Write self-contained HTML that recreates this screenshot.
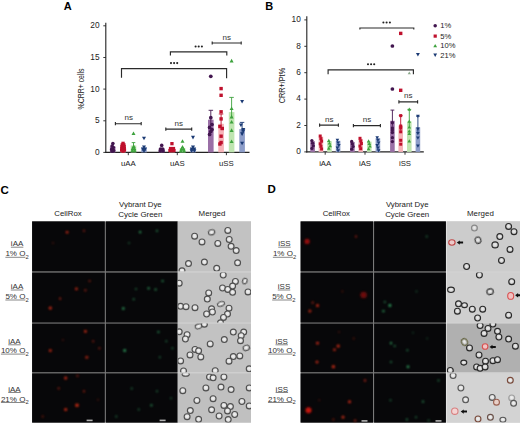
<!DOCTYPE html>
<html><head><meta charset="utf-8"><style>
html,body{margin:0;padding:0;background:#fff;}
body{width:520px;height:424px;overflow:hidden;position:relative;font-family:"Liberation Sans", sans-serif;}
svg{position:absolute;left:0;top:0;}
</style></head><body>
<svg width="520" height="424" viewBox="0 0 520 424" font-family='"Liberation Sans", sans-serif'>
<text x="63.8" y="9.8" font-size="11" text-anchor="start" font-weight="bold" fill="#000" >A</text>
<line x1="105.8" y1="22.8" x2="105.8" y2="152.9" stroke="#222" stroke-width="1.1"/>
<line x1="105.3" y1="152.4" x2="249.5" y2="152.4" stroke="#222" stroke-width="1.1"/>
<line x1="103.3" y1="152.4" x2="105.8" y2="152.4" stroke="#222" stroke-width="0.9"/>
<text x="99.6" y="155.0" font-size="8.3" text-anchor="end" font-weight="normal" fill="#222" >0</text>
<line x1="103.3" y1="120.8" x2="105.8" y2="120.8" stroke="#222" stroke-width="0.9"/>
<text x="99.6" y="123.3" font-size="8.3" text-anchor="end" font-weight="normal" fill="#222" >5</text>
<line x1="103.3" y1="89.1" x2="105.8" y2="89.1" stroke="#222" stroke-width="0.9"/>
<text x="99.6" y="91.7" font-size="8.3" text-anchor="end" font-weight="normal" fill="#222" >10</text>
<line x1="103.3" y1="57.5" x2="105.8" y2="57.5" stroke="#222" stroke-width="0.9"/>
<text x="99.6" y="60.1" font-size="8.3" text-anchor="end" font-weight="normal" fill="#222" >15</text>
<line x1="103.3" y1="25.8" x2="105.8" y2="25.8" stroke="#222" stroke-width="0.9"/>
<text x="99.6" y="28.4" font-size="8.3" text-anchor="end" font-weight="normal" fill="#222" >20</text>
<text transform="translate(84.2,89.0) rotate(-90)" font-size="8.2" text-anchor="middle" fill="#222" textLength="41" lengthAdjust="spacingAndGlyphs">%CRR+ cells</text>
<line x1="128.3" y1="152.4" x2="128.3" y2="155.20000000000002" stroke="#222" stroke-width="0.9"/>
<text x="128.3" y="165.7" font-size="7.8" text-anchor="middle" font-weight="normal" fill="#222" >uAA</text>
<line x1="177.3" y1="152.4" x2="177.3" y2="155.20000000000002" stroke="#222" stroke-width="0.9"/>
<text x="177.3" y="165.7" font-size="7.8" text-anchor="middle" font-weight="normal" fill="#222" >uAS</text>
<line x1="226.4" y1="152.4" x2="226.4" y2="155.20000000000002" stroke="#222" stroke-width="0.9"/>
<text x="226.4" y="165.7" font-size="7.8" text-anchor="middle" font-weight="normal" fill="#222" >uSS</text>
<rect x="208.0" y="119.7" width="5.6" height="32.7" fill="#9a6fa6"/>
<rect x="218.3" y="123.8" width="5.6" height="28.6" fill="#f6b3b8"/>
<rect x="228.8" y="112.1" width="5.6" height="40.3" fill="#bfe5b0"/>
<rect x="239.3" y="129.1" width="5.6" height="23.3" fill="#8d9dc9"/>
<line x1="210.8" y1="110.3" x2="210.8" y2="125.7" stroke="#42164f" stroke-width="0.9"/><line x1="208.6" y1="110.3" x2="213.1" y2="110.3" stroke="#42164f" stroke-width="0.9"/>
<line x1="221.1" y1="114.0" x2="221.1" y2="129.8" stroke="#bf112d" stroke-width="0.9"/><line x1="218.8" y1="114.0" x2="223.3" y2="114.0" stroke="#bf112d" stroke-width="0.9"/>
<line x1="231.6" y1="97.4" x2="231.6" y2="118.1" stroke="#3da23d" stroke-width="0.9"/><line x1="229.3" y1="97.4" x2="233.8" y2="97.4" stroke="#3da23d" stroke-width="0.9"/>
<line x1="242.1" y1="122.4" x2="242.1" y2="135.1" stroke="#1b3a74" stroke-width="0.9"/><line x1="239.8" y1="122.4" x2="244.3" y2="122.4" stroke="#1b3a74" stroke-width="0.9"/>
<circle cx="210.8" cy="76.3" r="1.87" fill="#42164f"/>
<circle cx="210.8" cy="117.7" r="1.87" fill="#42164f"/>
<circle cx="209.6" cy="127.4" r="1.87" fill="#42164f"/>
<circle cx="212.0" cy="129.5" r="1.87" fill="#42164f"/>
<circle cx="210.8" cy="131.5" r="1.87" fill="#42164f"/>
<circle cx="209.6" cy="134.4" r="1.87" fill="#42164f"/>
<circle cx="212.0" cy="124.5" r="1.87" fill="#42164f"/>
<rect x="219.4" y="86.9" width="3.4" height="3.4" fill="#bf112d"/>
<rect x="219.4" y="93.6" width="3.4" height="3.4" fill="#bf112d"/>
<rect x="219.4" y="110.1" width="3.4" height="3.4" fill="#bf112d"/>
<rect x="219.4" y="117.2" width="3.4" height="3.4" fill="#bf112d"/>
<rect x="218.2" y="124.8" width="3.4" height="3.4" fill="#bf112d"/>
<rect x="220.6" y="126.8" width="3.4" height="3.4" fill="#bf112d"/>
<rect x="219.4" y="134.5" width="3.4" height="3.4" fill="#bf112d"/>
<rect x="219.4" y="140.8" width="3.4" height="3.4" fill="#bf112d"/>
<rect x="218.2" y="142.3" width="3.4" height="3.4" fill="#bf112d"/>
<path d="M231.6 58.8L233.6 62.4L229.6 62.4Z" fill="#3da23d"/>
<path d="M231.6 106.5L233.6 110.1L229.6 110.1Z" fill="#3da23d"/>
<path d="M231.6 114.8L233.6 118.4L229.6 118.4Z" fill="#3da23d"/>
<path d="M231.6 128.3L233.6 131.9L229.6 131.9Z" fill="#3da23d"/>
<path d="M231.6 139.5L233.6 143.1L229.6 143.1Z" fill="#3da23d"/>
<path d="M231.6 120.0L233.6 123.6L229.6 123.6Z" fill="#3da23d"/>
<path d="M242.1 103.6L244.1 100.0L240.1 100.0Z" fill="#1b3a74"/>
<path d="M240.9 127.0L242.9 123.4L238.9 123.4Z" fill="#1b3a74"/>
<path d="M243.3 131.7L245.3 128.1L241.3 128.1Z" fill="#1b3a74"/>
<path d="M242.1 135.9L244.1 132.3L240.1 132.3Z" fill="#1b3a74"/>
<path d="M242.1 145.3L244.1 141.7L240.1 141.7Z" fill="#1b3a74"/>
<path d="M243.3 133.0L245.3 129.4L241.3 129.4Z" fill="#1b3a74"/>
<rect x="109.9" y="146.5" width="5.6" height="5.9" fill="#9a6fa6"/>
<rect x="120.2" y="145.5" width="5.6" height="6.9" fill="#f6b3b8"/>
<rect x="130.7" y="145.5" width="5.6" height="6.9" fill="#bfe5b0"/>
<rect x="141.2" y="147.5" width="5.6" height="4.9" fill="#8d9dc9"/>
<circle cx="112.9" cy="143.6" r="1.81" fill="#42164f"/>
<circle cx="112.1" cy="146.0" r="1.81" fill="#42164f"/>
<circle cx="113.3" cy="147.6" r="1.81" fill="#42164f"/>
<circle cx="111.7" cy="149.4" r="1.81" fill="#42164f"/>
<circle cx="113.6" cy="150.6" r="1.81" fill="#42164f"/>
<circle cx="112.2" cy="151.2" r="1.81" fill="#42164f"/>
<rect x="121.4" y="141.7" width="3.3" height="3.3" fill="#bf112d"/>
<rect x="120.6" y="143.2" width="3.3" height="3.3" fill="#bf112d"/>
<rect x="122.2" y="143.2" width="3.3" height="3.3" fill="#bf112d"/>
<rect x="120.4" y="144.9" width="3.3" height="3.3" fill="#bf112d"/>
<rect x="122.4" y="144.9" width="3.3" height="3.3" fill="#bf112d"/>
<rect x="120.2" y="146.8" width="3.3" height="3.3" fill="#bf112d"/>
<rect x="122.6" y="146.8" width="3.3" height="3.3" fill="#bf112d"/>
<rect x="120.0" y="148.5" width="3.3" height="3.3" fill="#bf112d"/>
<rect x="122.8" y="148.5" width="3.3" height="3.3" fill="#bf112d"/>
<rect x="121.4" y="149.5" width="3.3" height="3.3" fill="#bf112d"/>
<line x1="133.5" y1="142.6" x2="133.5" y2="147.0" stroke="#3da23d" stroke-width="0.9"/><line x1="131.7" y1="142.6" x2="135.3" y2="142.6" stroke="#3da23d" stroke-width="0.9"/>
<path d="M133.5 131.4L135.5 135.0L131.5 135.0Z" fill="#3da23d"/>
<path d="M133.7 144.3L135.7 147.9L131.7 147.9Z" fill="#3da23d"/>
<path d="M132.6 146.6L134.6 150.2L130.6 150.2Z" fill="#3da23d"/>
<path d="M134.4 146.6L136.4 150.2L132.4 150.2Z" fill="#3da23d"/>
<path d="M132.3 148.6L134.3 152.2L130.3 152.2Z" fill="#3da23d"/>
<path d="M134.7 148.6L136.7 152.2L132.7 152.2Z" fill="#3da23d"/>
<path d="M144.0 140.3L146.0 136.7L142.0 136.7Z" fill="#1b3a74"/>
<path d="M144.0 149.0L146.0 145.4L142.0 145.4Z" fill="#1b3a74"/>
<path d="M143.0 151.2L145.0 147.6L141.0 147.6Z" fill="#1b3a74"/>
<path d="M145.0 151.2L147.0 147.6L143.0 147.6Z" fill="#1b3a74"/>
<path d="M144.0 153.0L146.0 149.4L142.0 149.4Z" fill="#1b3a74"/>
<rect x="158.9" y="148.5" width="5.6" height="3.9" fill="#9a6fa6"/>
<rect x="169.2" y="147.8" width="5.6" height="4.6" fill="#f6b3b8"/>
<rect x="179.7" y="148.0" width="5.6" height="4.4" fill="#bfe5b0"/>
<rect x="190.2" y="148.0" width="5.6" height="4.4" fill="#8d9dc9"/>
<circle cx="161.7" cy="145.4" r="1.81" fill="#42164f"/>
<circle cx="160.5" cy="149.0" r="1.81" fill="#42164f"/>
<circle cx="162.7" cy="149.0" r="1.81" fill="#42164f"/>
<circle cx="160.2" cy="150.9" r="1.81" fill="#42164f"/>
<circle cx="163.1" cy="150.9" r="1.81" fill="#42164f"/>
<rect x="170.3" y="142.0" width="3.3" height="3.3" fill="#bf112d"/>
<rect x="168.9" y="146.9" width="3.3" height="3.3" fill="#bf112d"/>
<rect x="171.8" y="146.9" width="3.3" height="3.3" fill="#bf112d"/>
<rect x="168.3" y="148.9" width="3.3" height="3.3" fill="#bf112d"/>
<rect x="170.3" y="148.9" width="3.3" height="3.3" fill="#bf112d"/>
<rect x="172.3" y="148.9" width="3.3" height="3.3" fill="#bf112d"/>
<path d="M182.5 139.2L184.5 142.8L180.5 142.8Z" fill="#3da23d"/>
<path d="M182.5 145.0L184.5 148.6L180.5 148.6Z" fill="#3da23d"/>
<path d="M181.5 147.0L183.5 150.6L179.5 150.6Z" fill="#3da23d"/>
<path d="M183.5 147.0L185.5 150.6L181.5 150.6Z" fill="#3da23d"/>
<path d="M180.9 148.8L182.9 152.4L178.9 152.4Z" fill="#3da23d"/>
<path d="M184.1 148.8L186.1 152.4L182.1 152.4Z" fill="#3da23d"/>
<path d="M193.0 139.4L195.0 135.8L191.0 135.8Z" fill="#1b3a74"/>
<path d="M193.0 149.2L195.0 145.6L191.0 145.6Z" fill="#1b3a74"/>
<path d="M191.8 151.0L193.8 147.4L189.8 147.4Z" fill="#1b3a74"/>
<path d="M194.2 151.0L196.2 147.4L192.2 147.4Z" fill="#1b3a74"/>
<path d="M191.6 152.8L193.6 149.2L189.6 149.2Z" fill="#1b3a74"/>
<path d="M194.4 152.8L196.4 149.2L192.4 149.2Z" fill="#1b3a74"/>
<path d="M121.5 77.8V68.6H226.6V78.19999999999999" fill="none" stroke="#2a2a2a" stroke-width="1.15"/>
<circle cx="171.0" cy="63.1" r="1.05" fill="#222"/><circle cx="174.1" cy="63.1" r="1.05" fill="#222"/><circle cx="177.2" cy="63.1" r="1.05" fill="#222"/>
<path d="M170.4 55.5V51.9H226.8V55.5" fill="none" stroke="#2a2a2a" stroke-width="1.15"/>
<circle cx="195.6" cy="46.5" r="1.05" fill="#222"/><circle cx="198.7" cy="46.5" r="1.05" fill="#222"/><circle cx="201.9" cy="46.5" r="1.05" fill="#222"/>
<path d="M212.2 43H241.2M212.2 41.4V44.6M241.2 41.4V44.6" fill="none" stroke="#2a2a2a" stroke-width="1.15"/>
<text x="226.8" y="39.9" font-size="8" text-anchor="middle" font-weight="normal" fill="#333" >ns</text>
<path d="M115.4 123.7H141.2M115.4 122.10000000000001V125.3M141.2 122.10000000000001V125.3" fill="none" stroke="#2a2a2a" stroke-width="1.15"/>
<text x="128.75" y="119.8" font-size="8" text-anchor="middle" font-weight="normal" fill="#333" >ns</text>
<path d="M165.8 129.1H191.7M165.8 127.5V130.7M191.7 127.5V130.7" fill="none" stroke="#2a2a2a" stroke-width="1.15"/>
<text x="178.75" y="125.5" font-size="8" text-anchor="middle" font-weight="normal" fill="#333" >ns</text>
<text x="265.2" y="10.2" font-size="11" text-anchor="start" font-weight="bold" fill="#000" >B</text>
<line x1="306.8" y1="16.2" x2="306.8" y2="152.4" stroke="#222" stroke-width="1.1"/>
<line x1="306.3" y1="151.9" x2="423.8" y2="151.9" stroke="#222" stroke-width="1.1"/>
<line x1="304.3" y1="151.9" x2="306.8" y2="151.9" stroke="#222" stroke-width="0.9"/>
<text x="300.8" y="154.2" font-size="8.3" text-anchor="end" font-weight="normal" fill="#222" >0</text>
<line x1="304.3" y1="125.5" x2="306.8" y2="125.5" stroke="#222" stroke-width="0.9"/>
<text x="300.8" y="127.8" font-size="8.3" text-anchor="end" font-weight="normal" fill="#222" >2</text>
<line x1="304.3" y1="99.1" x2="306.8" y2="99.1" stroke="#222" stroke-width="0.9"/>
<text x="300.8" y="101.4" font-size="8.3" text-anchor="end" font-weight="normal" fill="#222" >4</text>
<line x1="304.3" y1="72.7" x2="306.8" y2="72.7" stroke="#222" stroke-width="0.9"/>
<text x="300.8" y="75.0" font-size="8.3" text-anchor="end" font-weight="normal" fill="#222" >6</text>
<line x1="304.3" y1="46.3" x2="306.8" y2="46.3" stroke="#222" stroke-width="0.9"/>
<text x="300.8" y="48.6" font-size="8.3" text-anchor="end" font-weight="normal" fill="#222" >8</text>
<line x1="304.3" y1="19.9" x2="306.8" y2="19.9" stroke="#222" stroke-width="0.9"/>
<text x="300.8" y="22.2" font-size="8.3" text-anchor="end" font-weight="normal" fill="#222" >10</text>
<text transform="translate(285.1,85.6) rotate(-90)" font-size="8.4" text-anchor="middle" fill="#222" textLength="35.5" lengthAdjust="spacingAndGlyphs">CRR+/Pt%</text>
<line x1="325.2" y1="151.9" x2="325.2" y2="154.70000000000002" stroke="#222" stroke-width="0.9"/>
<text x="325.2" y="165.5" font-size="7.8" text-anchor="middle" font-weight="normal" fill="#222" >iAA</text>
<line x1="365.0" y1="151.9" x2="365.0" y2="154.70000000000002" stroke="#222" stroke-width="0.9"/>
<text x="365.0" y="165.5" font-size="7.8" text-anchor="middle" font-weight="normal" fill="#222" >iAS</text>
<line x1="405.0" y1="151.9" x2="405.0" y2="154.70000000000002" stroke="#222" stroke-width="0.9"/>
<text x="405.0" y="165.5" font-size="7.8" text-anchor="middle" font-weight="normal" fill="#222" >iSS</text>
<rect x="390.1" y="120.8" width="4.6" height="31.1" fill="#9a6fa6"/>
<rect x="398.4" y="125.5" width="4.6" height="26.4" fill="#f6b3b8"/>
<rect x="407.0" y="121.4" width="4.6" height="30.5" fill="#bfe5b0"/>
<rect x="415.6" y="127.3" width="4.6" height="24.6" fill="#8d9dc9"/>
<line x1="392.4" y1="110.1" x2="392.4" y2="125.8" stroke="#42164f" stroke-width="0.9"/><line x1="390.5" y1="110.1" x2="394.3" y2="110.1" stroke="#42164f" stroke-width="0.9"/>
<line x1="400.7" y1="115.6" x2="400.7" y2="130.5" stroke="#bf112d" stroke-width="0.9"/><line x1="398.8" y1="115.6" x2="402.6" y2="115.6" stroke="#bf112d" stroke-width="0.9"/>
<line x1="409.3" y1="109.4" x2="409.3" y2="126.4" stroke="#3da23d" stroke-width="0.9"/><line x1="407.4" y1="109.4" x2="411.2" y2="109.4" stroke="#3da23d" stroke-width="0.9"/>
<line x1="417.9" y1="116.2" x2="417.9" y2="132.3" stroke="#1b3a74" stroke-width="0.9"/><line x1="416.0" y1="116.2" x2="419.8" y2="116.2" stroke="#1b3a74" stroke-width="0.9"/>
<circle cx="392.4" cy="46.0" r="1.87" fill="#42164f"/>
<circle cx="392.4" cy="89.0" r="1.87" fill="#42164f"/>
<circle cx="392.4" cy="122.7" r="1.65" fill="#42164f"/>
<circle cx="392.4" cy="127.9" r="1.65" fill="#42164f"/>
<circle cx="392.4" cy="132.5" r="1.65" fill="#42164f"/>
<circle cx="392.4" cy="137.7" r="1.65" fill="#42164f"/>
<circle cx="392.4" cy="141.6" r="1.65" fill="#42164f"/>
<circle cx="392.4" cy="130.0" r="1.65" fill="#42164f"/>
<rect x="399.0" y="31.7" width="3.4" height="3.4" fill="#bf112d"/>
<rect x="399.0" y="88.6" width="3.4" height="3.4" fill="#bf112d"/>
<rect x="399.2" y="114.1" width="3.0" height="3.0" fill="#bf112d"/>
<rect x="399.2" y="124.5" width="3.0" height="3.0" fill="#bf112d"/>
<rect x="399.2" y="130.3" width="3.0" height="3.0" fill="#bf112d"/>
<rect x="399.2" y="138.8" width="3.0" height="3.0" fill="#bf112d"/>
<rect x="399.2" y="142.7" width="3.0" height="3.0" fill="#bf112d"/>
<rect x="399.2" y="126.5" width="3.0" height="3.0" fill="#bf112d"/>
<path d="M409.3 71.4L410.9 74.2L407.7 74.2Z" fill="#8aa88a"/>
<path d="M409.3 107.6L411.1 110.8L407.5 110.8Z" fill="#3da23d"/>
<path d="M409.3 119.6L411.1 122.8L407.5 122.8Z" fill="#3da23d"/>
<path d="M409.3 125.2L411.1 128.4L407.5 128.4Z" fill="#3da23d"/>
<path d="M409.3 129.2L411.1 132.4L407.5 132.4Z" fill="#3da23d"/>
<path d="M409.3 131.7L411.1 134.9L407.5 134.9Z" fill="#3da23d"/>
<path d="M409.3 139.2L411.1 142.4L407.5 142.4Z" fill="#3da23d"/>
<path d="M417.9 56.5L419.9 52.9L415.9 52.9Z" fill="#1b3a74"/>
<path d="M417.9 118.0L419.7 114.8L416.1 114.8Z" fill="#1b3a74"/>
<path d="M417.9 130.8L419.7 127.6L416.1 127.6Z" fill="#1b3a74"/>
<path d="M417.9 135.3L419.7 132.1L416.1 132.1Z" fill="#1b3a74"/>
<path d="M417.9 139.8L419.7 136.6L416.1 136.6Z" fill="#1b3a74"/>
<path d="M417.9 147.8L419.7 144.6L416.1 144.6Z" fill="#1b3a74"/>
<rect x="310.3" y="141.2" width="4.6" height="10.7" fill="#9a6fa6"/>
<circle cx="311.9" cy="140.6" r="1.65" fill="#42164f"/>
<circle cx="312.6" cy="143.2" r="1.65" fill="#42164f"/>
<circle cx="313.3" cy="145.8" r="1.65" fill="#42164f"/>
<circle cx="311.9" cy="148.4" r="1.65" fill="#42164f"/>
<rect x="318.6" y="136.6" width="4.6" height="15.3" fill="#f6b3b8"/>
<rect x="318.7" y="134.5" width="3.0" height="3.0" fill="#bf112d"/>
<rect x="319.4" y="137.1" width="3.0" height="3.0" fill="#bf112d"/>
<rect x="320.1" y="139.7" width="3.0" height="3.0" fill="#bf112d"/>
<rect x="318.7" y="142.3" width="3.0" height="3.0" fill="#bf112d"/>
<rect x="319.4" y="144.9" width="3.0" height="3.0" fill="#bf112d"/>
<rect x="320.1" y="147.5" width="3.0" height="3.0" fill="#bf112d"/>
<rect x="327.2" y="141.2" width="4.6" height="10.7" fill="#bfe5b0"/>
<path d="M328.8 138.8L330.6 142.0L327.0 142.0Z" fill="#3da23d"/>
<path d="M329.5 141.4L331.3 144.6L327.7 144.6Z" fill="#3da23d"/>
<path d="M330.2 144.0L332.0 147.2L328.4 147.2Z" fill="#3da23d"/>
<path d="M328.8 146.6L330.6 149.8L327.0 149.8Z" fill="#3da23d"/>
<rect x="335.8" y="140.8" width="4.6" height="11.1" fill="#8d9dc9"/>
<path d="M337.4 142.0L339.2 138.8L335.6 138.8Z" fill="#1b3a74"/>
<path d="M338.1 144.6L339.9 141.4L336.3 141.4Z" fill="#1b3a74"/>
<path d="M338.8 147.2L340.6 144.0L337.0 144.0Z" fill="#1b3a74"/>
<path d="M337.4 149.8L339.2 146.6L335.6 146.6Z" fill="#1b3a74"/>
<path d="M338.1 152.4L339.9 149.2L336.3 149.2Z" fill="#1b3a74"/>
<rect x="350.1" y="142.0" width="4.6" height="9.9" fill="#9a6fa6"/>
<circle cx="351.7" cy="141.4" r="1.65" fill="#42164f"/>
<circle cx="352.4" cy="144.0" r="1.65" fill="#42164f"/>
<circle cx="353.1" cy="146.6" r="1.65" fill="#42164f"/>
<circle cx="351.7" cy="149.2" r="1.65" fill="#42164f"/>
<rect x="358.4" y="138.9" width="4.6" height="13.0" fill="#f6b3b8"/>
<rect x="358.5" y="136.8" width="3.0" height="3.0" fill="#bf112d"/>
<rect x="359.2" y="139.4" width="3.0" height="3.0" fill="#bf112d"/>
<rect x="359.9" y="142.0" width="3.0" height="3.0" fill="#bf112d"/>
<rect x="358.5" y="144.6" width="3.0" height="3.0" fill="#bf112d"/>
<rect x="359.2" y="147.2" width="3.0" height="3.0" fill="#bf112d"/>
<rect x="367.0" y="141.6" width="4.6" height="10.3" fill="#bfe5b0"/>
<path d="M368.6 139.2L370.4 142.4L366.8 142.4Z" fill="#3da23d"/>
<path d="M369.3 141.8L371.1 145.0L367.5 145.0Z" fill="#3da23d"/>
<path d="M370.0 144.4L371.8 147.6L368.2 147.6Z" fill="#3da23d"/>
<path d="M368.6 147.0L370.4 150.2L366.8 150.2Z" fill="#3da23d"/>
<rect x="375.6" y="138.2" width="4.6" height="13.7" fill="#8d9dc9"/>
<path d="M377.2 139.4L379.0 136.2L375.4 136.2Z" fill="#1b3a74"/>
<path d="M377.9 142.0L379.7 138.8L376.1 138.8Z" fill="#1b3a74"/>
<path d="M378.6 144.6L380.4 141.4L376.8 141.4Z" fill="#1b3a74"/>
<path d="M377.2 147.2L379.0 144.0L375.4 144.0Z" fill="#1b3a74"/>
<path d="M377.9 149.8L379.7 146.6L376.1 146.6Z" fill="#1b3a74"/>
<path d="M378.6 152.4L380.4 149.2L376.8 149.2Z" fill="#1b3a74"/>
<path d="M359.9 29.4V28.0H413.8V29.4" fill="none" stroke="#2a2a2a" stroke-width="1.15"/>
<circle cx="383.4" cy="22.5" r="1.05" fill="#222"/><circle cx="386.6" cy="22.5" r="1.05" fill="#222"/><circle cx="389.9" cy="22.5" r="1.05" fill="#222"/>
<path d="M328.1 74.2V69.8H413.4V74.2" fill="none" stroke="#2a2a2a" stroke-width="1.15"/>
<circle cx="368.0" cy="64.2" r="1.05" fill="#222"/><circle cx="371.1" cy="64.2" r="1.05" fill="#222"/><circle cx="374.2" cy="64.2" r="1.05" fill="#222"/>
<path d="M398.9 101.8H417.6M398.9 100.2V103.39999999999999M417.6 100.2V103.39999999999999" fill="none" stroke="#2a2a2a" stroke-width="1.15"/>
<text x="408.2" y="98.1" font-size="8" text-anchor="middle" font-weight="normal" fill="#333" >ns</text>
<path d="M319.6 125.1H338.4M319.6 123.5V126.69999999999999M338.4 123.5V126.69999999999999" fill="none" stroke="#2a2a2a" stroke-width="1.15"/>
<text x="329.2" y="121.8" font-size="8" text-anchor="middle" font-weight="normal" fill="#333" >ns</text>
<path d="M353.4 125.6H380.4M353.4 124.0V127.19999999999999M380.4 124.0V127.19999999999999" fill="none" stroke="#2a2a2a" stroke-width="1.15"/>
<text x="367.0" y="121.8" font-size="8" text-anchor="middle" font-weight="normal" fill="#333" >ns</text>
<circle cx="435.2" cy="25.8" r="1.76" fill="#42164f"/>
<text x="440.3" y="28.4" font-size="7.6" text-anchor="start" font-weight="normal" fill="#222" >1%</text>
<rect x="433.6" y="34.5" width="3.2" height="3.2" fill="#bf112d"/>
<text x="440.3" y="38.7" font-size="7.6" text-anchor="start" font-weight="normal" fill="#222" >5%</text>
<path d="M435.2 43.9L437.1 47.3L433.3 47.3Z" fill="#3da23d"/>
<text x="440.3" y="48.4" font-size="7.6" text-anchor="start" font-weight="normal" fill="#222" >10%</text>
<path d="M435.2 57.0L437.1 53.6L433.3 53.6Z" fill="#1b3a74"/>
<text x="440.3" y="57.7" font-size="7.6" text-anchor="start" font-weight="normal" fill="#222" >21%</text>
<text x="0.5" y="193.5" font-size="11.5" text-anchor="start" font-weight="bold" fill="#000" >C</text>
<text x="267.6" y="193.4" font-size="11.5" text-anchor="start" font-weight="bold" fill="#000" >D</text>
<text x="68.0" y="215.9" font-size="7.8" text-anchor="middle" font-weight="normal" fill="#222" >CellRox</text>
<text x="140.4" y="206.9" font-size="7.8" text-anchor="middle" font-weight="normal" fill="#222" >Vybrant Dye</text>
<text x="140.4" y="216.6" font-size="7.95" text-anchor="middle" font-weight="normal" fill="#222" >Cycle Green</text>
<text x="212.0" y="215.9" font-size="7.9" text-anchor="middle" font-weight="normal" fill="#222" >Merged</text>
<text x="336.3" y="215.9" font-size="7.8" text-anchor="middle" font-weight="normal" fill="#222" >CellRox</text>
<text x="407.2" y="206.9" font-size="7.8" text-anchor="middle" font-weight="normal" fill="#222" >Vybrant Dye</text>
<text x="407.2" y="216.6" font-size="7.95" text-anchor="middle" font-weight="normal" fill="#222" >Cycle Green</text>
<text x="480.4" y="215.9" font-size="7.9" text-anchor="middle" font-weight="normal" fill="#222" >Merged</text>
<defs><filter id="b1" x="-2" y="-2" width="5" height="5"><feGaussianBlur stdDeviation="0.9"/></filter><filter id="b2" x="-1" y="-1" width="3" height="3"><feGaussianBlur stdDeviation="0.45"/></filter><radialGradient id="cg" cx="0.5" cy="0.45" r="0.55"><stop offset="0" stop-color="#f4f4f4"/><stop offset="0.5" stop-color="#e2e2e2"/><stop offset="1" stop-color="#b0b0b0"/></radialGradient><radialGradient id="cg2" cx="0.5" cy="0.45" r="0.55"><stop offset="0" stop-color="#f0f0f0"/><stop offset="0.5" stop-color="#d8d8d8"/><stop offset="1" stop-color="#a8a8a8"/></radialGradient><filter id="b3" x="-2" y="-2" width="5" height="5"><feGaussianBlur stdDeviation="0.5"/></filter></defs>
<rect x="32.1" y="221.4" width="145.6" height="201.2" fill="#7a7a7a"/>
<rect x="177.7" y="221.4" width="73.3" height="201.2" fill="#d2d2d2"/>
<rect x="32.1" y="221.4" width="72.7" height="49.9" fill="#070709"/>
<rect x="105.9" y="221.4" width="71.8" height="49.9" fill="#070709"/>
<rect x="177.7" y="221.4" width="73.3" height="49.9" fill="#c2c2c2"/>
<rect x="32.1" y="272.6" width="72.7" height="49.9" fill="#070709"/>
<rect x="105.9" y="272.6" width="71.8" height="49.9" fill="#070709"/>
<rect x="177.7" y="272.6" width="73.3" height="49.9" fill="#c4c4c4"/>
<rect x="32.1" y="323.6" width="72.7" height="48.6" fill="#070709"/>
<rect x="105.9" y="323.6" width="71.8" height="48.6" fill="#070709"/>
<rect x="177.7" y="323.6" width="73.3" height="48.6" fill="#c2c2c2"/>
<rect x="32.1" y="373.4" width="72.7" height="49.2" fill="#070709"/>
<rect x="105.9" y="373.4" width="71.8" height="49.2" fill="#070709"/>
<rect x="177.7" y="373.4" width="73.3" height="49.2" fill="#c0c0c0"/>
<rect x="300.6" y="221.4" width="145.3" height="201.2" fill="#7a7a7a"/>
<rect x="446.6" y="221.4" width="73.9" height="201.2" fill="#d2d2d2"/>
<rect x="300.6" y="221.4" width="72.4" height="49.9" fill="#070709"/>
<rect x="374.1" y="221.4" width="71.8" height="49.9" fill="#070709"/>
<rect x="446.6" y="221.4" width="73.9" height="49.9" fill="#cccccc"/>
<rect x="300.6" y="272.6" width="72.4" height="49.9" fill="#070709"/>
<rect x="374.1" y="272.6" width="71.8" height="49.9" fill="#070709"/>
<rect x="446.6" y="272.6" width="73.9" height="49.9" fill="#cfcfcf"/>
<rect x="300.6" y="323.6" width="72.4" height="48.6" fill="#070709"/>
<rect x="374.1" y="323.6" width="71.8" height="48.6" fill="#070709"/>
<rect x="446.6" y="323.6" width="73.9" height="48.6" fill="#b0b0b0"/>
<rect x="300.6" y="373.4" width="72.4" height="49.2" fill="#070709"/>
<rect x="374.1" y="373.4" width="71.8" height="49.2" fill="#070709"/>
<rect x="446.6" y="373.4" width="73.9" height="49.2" fill="#d3d3d3"/>
<circle cx="67.1" cy="232.2" r="1.3" fill="#e0301a" opacity="0.9" filter="url(#b1)"/>
<circle cx="84.0" cy="230.8" r="1.1" fill="#e0301a" opacity="0.6" filter="url(#b1)"/>
<circle cx="53.0" cy="243.0" r="1.0" fill="#e0301a" opacity="0.3" filter="url(#b1)"/>
<circle cx="89.6" cy="281.0" r="1.1" fill="#e0301a" opacity="0.6" filter="url(#b1)"/>
<circle cx="76.4" cy="288.9" r="1.3" fill="#e0301a" opacity="0.9" filter="url(#b1)"/>
<circle cx="85.4" cy="290.3" r="1.1" fill="#e0301a" opacity="0.7" filter="url(#b1)"/>
<circle cx="60.1" cy="298.7" r="1.1" fill="#e0301a" opacity="0.7" filter="url(#b1)"/>
<circle cx="50.3" cy="308.0" r="1.6" fill="#e0301a" opacity="0.9" filter="url(#b1)"/>
<circle cx="85.4" cy="331.4" r="1.4" fill="#e0301a" opacity="0.9" filter="url(#b1)"/>
<circle cx="93.2" cy="341.3" r="1.1" fill="#e0301a" opacity="0.6" filter="url(#b1)"/>
<circle cx="99.4" cy="348.3" r="1.1" fill="#e0301a" opacity="0.6" filter="url(#b1)"/>
<circle cx="50.3" cy="350.5" r="1.5" fill="#e0301a" opacity="0.8" filter="url(#b1)"/>
<circle cx="86.8" cy="357.3" r="1.5" fill="#e0301a" opacity="0.7" filter="url(#b1)"/>
<circle cx="62.9" cy="339.9" r="1.0" fill="#e0301a" opacity="0.3" filter="url(#b1)"/>
<circle cx="65.7" cy="378.0" r="1.5" fill="#e0301a" opacity="0.9" filter="url(#b1)"/>
<circle cx="77.5" cy="375.8" r="1.1" fill="#e0301a" opacity="0.6" filter="url(#b1)"/>
<circle cx="58.7" cy="388.4" r="1.1" fill="#e0301a" opacity="0.6" filter="url(#b1)"/>
<circle cx="84.0" cy="391.3" r="1.1" fill="#e0301a" opacity="0.7" filter="url(#b1)"/>
<circle cx="77.0" cy="405.3" r="1.8" fill="#e0301a" opacity="0.9" filter="url(#b1)"/>
<circle cx="65.7" cy="409.5" r="1.5" fill="#e0301a" opacity="0.9" filter="url(#b1)"/>
<circle cx="42.7" cy="416.5" r="1.1" fill="#e0301a" opacity="0.5" filter="url(#b1)"/>
<circle cx="98.0" cy="399.7" r="1.0" fill="#e0301a" opacity="0.3" filter="url(#b1)"/>
<circle cx="140.1" cy="232.2" r="1.1" fill="#3fcf7a" opacity="0.8" filter="url(#b1)"/>
<circle cx="157.0" cy="230.8" r="1.1" fill="#3fcf7a" opacity="0.6" filter="url(#b1)"/>
<circle cx="129.0" cy="243.0" r="1.0" fill="#3fcf7a" opacity="0.4" filter="url(#b1)"/>
<circle cx="162.6" cy="281.0" r="1.1" fill="#3fcf7a" opacity="0.7" filter="url(#b1)"/>
<circle cx="148.6" cy="288.3" r="1.1" fill="#3fcf7a" opacity="0.8" filter="url(#b1)"/>
<circle cx="155.6" cy="289.4" r="1.0" fill="#3fcf7a" opacity="0.8" filter="url(#b1)"/>
<circle cx="136.0" cy="288.9" r="1.0" fill="#3fcf7a" opacity="0.5" filter="url(#b1)"/>
<circle cx="133.7" cy="299.2" r="1.0" fill="#3fcf7a" opacity="0.6" filter="url(#b1)"/>
<circle cx="123.3" cy="308.5" r="1.2" fill="#3fcf7a" opacity="0.8" filter="url(#b1)"/>
<circle cx="158.4" cy="332.0" r="1.1" fill="#3fcf7a" opacity="0.7" filter="url(#b1)"/>
<circle cx="166.3" cy="341.3" r="1.0" fill="#3fcf7a" opacity="0.5" filter="url(#b1)"/>
<circle cx="172.4" cy="348.3" r="1.0" fill="#3fcf7a" opacity="0.5" filter="url(#b1)"/>
<circle cx="124.7" cy="350.5" r="1.3" fill="#3fcf7a" opacity="0.9" filter="url(#b1)"/>
<circle cx="159.8" cy="357.3" r="1.0" fill="#3fcf7a" opacity="0.5" filter="url(#b1)"/>
<circle cx="131.7" cy="388.4" r="1.0" fill="#3fcf7a" opacity="0.5" filter="url(#b1)"/>
<circle cx="157.0" cy="391.3" r="1.0" fill="#3fcf7a" opacity="0.5" filter="url(#b1)"/>
<circle cx="151.4" cy="405.3" r="1.1" fill="#3fcf7a" opacity="0.7" filter="url(#b1)"/>
<circle cx="138.7" cy="409.5" r="1.0" fill="#3fcf7a" opacity="0.5" filter="url(#b1)"/>
<circle cx="116.3" cy="416.5" r="1.0" fill="#3fcf7a" opacity="0.5" filter="url(#b1)"/>
<circle cx="171.0" cy="398.3" r="1.0" fill="#3fcf7a" opacity="0.4" filter="url(#b1)"/>
<circle cx="307.1" cy="241.4" r="2.6" fill="#b01010" opacity="0.85" filter="url(#b1)"/>
<circle cx="356.0" cy="236.5" r="1.1" fill="#e0301a" opacity="0.7" filter="url(#b1)"/>
<circle cx="363.6" cy="295.0" r="3.2" fill="#9a0e10" opacity="0.7" filter="url(#b1)"/>
<circle cx="312.7" cy="302.7" r="1.1" fill="#e0301a" opacity="0.7" filter="url(#b1)"/>
<circle cx="317.5" cy="305.5" r="1.5" fill="#e0301a" opacity="0.9" filter="url(#b1)"/>
<circle cx="309.9" cy="311.1" r="1.5" fill="#e0301a" opacity="0.8" filter="url(#b1)"/>
<circle cx="342.4" cy="291.4" r="0.9" fill="#e0301a" opacity="0.4" filter="url(#b1)"/>
<circle cx="317.5" cy="343.2" r="1.4" fill="#e0301a" opacity="0.9" filter="url(#b1)"/>
<circle cx="338.2" cy="346.0" r="1.6" fill="#e0301a" opacity="0.9" filter="url(#b1)"/>
<circle cx="334.5" cy="349.7" r="1.3" fill="#e0301a" opacity="0.9" filter="url(#b1)"/>
<circle cx="353.7" cy="338.4" r="1.0" fill="#e0301a" opacity="0.4" filter="url(#b1)"/>
<circle cx="317.0" cy="362.1" r="1.4" fill="#e0301a" opacity="0.9" filter="url(#b1)"/>
<circle cx="333.4" cy="366.7" r="1.6" fill="#e0301a" opacity="0.9" filter="url(#b1)"/>
<circle cx="339.0" cy="331.9" r="1.0" fill="#e0301a" opacity="0.3" filter="url(#b1)"/>
<circle cx="308.5" cy="410.2" r="3.0" fill="#d01810" opacity="0.95" filter="url(#b1)"/>
<circle cx="349.5" cy="401.7" r="1.5" fill="#e0301a" opacity="0.9" filter="url(#b1)"/>
<circle cx="365.0" cy="380.5" r="1.2" fill="#e0301a" opacity="0.7" filter="url(#b1)"/>
<circle cx="343.0" cy="417.2" r="1.4" fill="#e0301a" opacity="0.9" filter="url(#b1)"/>
<circle cx="333.4" cy="419.5" r="1.0" fill="#e0301a" opacity="0.6" filter="url(#b1)"/>
<circle cx="355.1" cy="420.6" r="1.2" fill="#e0301a" opacity="0.7" filter="url(#b1)"/>
<circle cx="319.2" cy="400.3" r="1.0" fill="#e0301a" opacity="0.3" filter="url(#b1)"/>
<circle cx="426.7" cy="236.5" r="1.0" fill="#3fcf7a" opacity="0.5" filter="url(#b1)"/>
<circle cx="389.9" cy="305.5" r="1.4" fill="#3fcf7a" opacity="0.8" filter="url(#b1)"/>
<circle cx="384.8" cy="302.1" r="1.0" fill="#3fcf7a" opacity="0.6" filter="url(#b1)"/>
<circle cx="383.4" cy="311.1" r="1.2" fill="#3fcf7a" opacity="0.7" filter="url(#b1)"/>
<circle cx="416.5" cy="291.4" r="0.9" fill="#3fcf7a" opacity="0.4" filter="url(#b1)"/>
<circle cx="391.0" cy="343.2" r="1.1" fill="#3fcf7a" opacity="0.8" filter="url(#b1)"/>
<circle cx="394.7" cy="346.0" r="1.0" fill="#3fcf7a" opacity="0.6" filter="url(#b1)"/>
<circle cx="407.4" cy="350.3" r="1.0" fill="#3fcf7a" opacity="0.6" filter="url(#b1)"/>
<circle cx="391.0" cy="362.1" r="1.0" fill="#3fcf7a" opacity="0.6" filter="url(#b1)"/>
<circle cx="408.0" cy="366.7" r="1.3" fill="#3fcf7a" opacity="0.8" filter="url(#b1)"/>
<circle cx="413.0" cy="332.7" r="0.9" fill="#3fcf7a" opacity="0.3" filter="url(#b1)"/>
<circle cx="427.2" cy="338.4" r="0.9" fill="#3fcf7a" opacity="0.3" filter="url(#b1)"/>
<circle cx="438.5" cy="380.5" r="1.0" fill="#3fcf7a" opacity="0.6" filter="url(#b1)"/>
<circle cx="423.0" cy="401.7" r="1.1" fill="#3fcf7a" opacity="0.6" filter="url(#b1)"/>
<circle cx="390.5" cy="400.3" r="1.0" fill="#3fcf7a" opacity="0.5" filter="url(#b1)"/>
<circle cx="416.0" cy="417.2" r="1.0" fill="#3fcf7a" opacity="0.5" filter="url(#b1)"/>
<circle cx="406.9" cy="419.5" r="1.1" fill="#3fcf7a" opacity="0.6" filter="url(#b1)"/>
<circle cx="428.6" cy="420.6" r="1.0" fill="#3fcf7a" opacity="0.5" filter="url(#b1)"/>
<rect x="86.6" y="419.6" width="6" height="1.6" fill="#ddd" opacity="0.8" filter="url(#b2)"/>
<rect x="159.6" y="419.6" width="6" height="1.6" fill="#ddd" opacity="0.8" filter="url(#b2)"/>
<rect x="361.5" y="420.1" width="6" height="1.6" fill="#ddd" opacity="0.8" filter="url(#b2)"/>
<rect x="435.5" y="420.1" width="6" height="1.6" fill="#ddd" opacity="0.8" filter="url(#b2)"/>
<clipPath id="cpC0"><rect x="177.7" y="221.4" width="73.3" height="49.9"/></clipPath>
<clipPath id="cpC1"><rect x="177.7" y="272.6" width="73.3" height="49.9"/></clipPath>
<clipPath id="cpC2"><rect x="177.7" y="323.6" width="73.3" height="48.6"/></clipPath>
<clipPath id="cpC3"><rect x="177.7" y="373.4" width="73.3" height="49.2"/></clipPath>
<clipPath id="cpD0"><rect x="446.6" y="221.4" width="73.9" height="49.9"/></clipPath>
<clipPath id="cpD1"><rect x="446.6" y="272.6" width="73.9" height="49.9"/></clipPath>
<clipPath id="cpD2"><rect x="446.6" y="323.6" width="73.9" height="48.6"/></clipPath>
<clipPath id="cpD3"><rect x="446.6" y="373.4" width="73.9" height="49.2"/></clipPath>
<g clip-path="url(#cpC0)">
<circle cx="194.6" cy="236.2" r="2.95" fill="url(#cg)" stroke="#505050" stroke-width="1.1" filter="url(#b2)"/>
<circle cx="202.0" cy="241.9" r="2.95" fill="url(#cg)" stroke="#505050" stroke-width="1.1" filter="url(#b2)"/>
<ellipse cx="211.6" cy="232.3" rx="3.2" ry="2.6" transform="rotate(-15 211.6 232.3)" fill="url(#cg)" stroke="#505050" stroke-width="1.1" filter="url(#b2)"/>
<circle cx="217.8" cy="243.4" r="2.95" fill="url(#cg)" stroke="#505050" stroke-width="1.1" filter="url(#b2)"/>
<circle cx="227.8" cy="230.4" r="2.95" fill="url(#cg)" stroke="#505050" stroke-width="1.1" filter="url(#b2)"/>
<circle cx="229.2" cy="239.5" r="2.95" fill="url(#cg)" stroke="#505050" stroke-width="1.1" filter="url(#b2)"/>
<circle cx="231.1" cy="246.3" r="2.95" fill="url(#cg)" stroke="#505050" stroke-width="1.1" filter="url(#b2)"/>
<circle cx="236.2" cy="250.6" r="2.95" fill="url(#cg)" stroke="#505050" stroke-width="1.1" filter="url(#b2)"/>
<circle cx="188.5" cy="263.6" r="2.95" fill="url(#cg)" stroke="#505050" stroke-width="1.1" filter="url(#b2)"/>
<circle cx="204.4" cy="262.1" r="2.95" fill="url(#cg)" stroke="#505050" stroke-width="1.1" filter="url(#b2)"/>
<circle cx="237.6" cy="262.8" r="2.95" fill="url(#cg)" stroke="#505050" stroke-width="1.1" filter="url(#b2)"/>
<circle cx="216.7" cy="268.3" r="2.95" fill="url(#cg)" stroke="#505050" stroke-width="1.1" filter="url(#b2)"/>
<circle cx="182.0" cy="270.8" r="2.95" fill="url(#cg)" stroke="#505050" stroke-width="1.1" filter="url(#b2)"/>
</g>
<g clip-path="url(#cpC1)">
<circle cx="223.2" cy="275.0" r="2.95" fill="url(#cg)" stroke="#505050" stroke-width="1.1" filter="url(#b2)"/>
<circle cx="235.4" cy="281.4" r="2.95" fill="url(#cg)" stroke="#505050" stroke-width="1.1" filter="url(#b2)"/>
<ellipse cx="244.8" cy="281.1" rx="2.2" ry="2.9" transform="rotate(20 244.8 281.1)" fill="url(#cg)" stroke="#505050" stroke-width="1.1" filter="url(#b2)"/>
<circle cx="179.2" cy="283.2" r="2.95" fill="url(#cg)" stroke="#505050" stroke-width="1.1" filter="url(#b2)"/>
<circle cx="222.5" cy="288.0" r="2.95" fill="url(#cg)" stroke="#505050" stroke-width="1.1" filter="url(#b2)"/>
<circle cx="227.8" cy="289.4" r="2.95" fill="url(#cg)" stroke="#505050" stroke-width="1.1" filter="url(#b2)"/>
<circle cx="232.6" cy="286.1" r="2.95" fill="url(#cg)" stroke="#505050" stroke-width="1.1" filter="url(#b2)"/>
<circle cx="232.6" cy="292.3" r="2.95" fill="url(#cg)" stroke="#505050" stroke-width="1.1" filter="url(#b2)"/>
<circle cx="208.7" cy="292.9" r="2.95" fill="url(#cg)" stroke="#505050" stroke-width="1.1" filter="url(#b2)"/>
<circle cx="207.3" cy="299.1" r="2.95" fill="url(#cg)" stroke="#505050" stroke-width="1.1" filter="url(#b2)"/>
<circle cx="248.0" cy="291.9" r="2.95" fill="url(#cg)" stroke="#505050" stroke-width="1.1" filter="url(#b2)"/>
<ellipse cx="221.0" cy="303.9" rx="3.6" ry="2.2" transform="rotate(-20 221.0 303.9)" fill="url(#cg)" stroke="#505050" stroke-width="1.1" filter="url(#b2)"/>
<circle cx="180.6" cy="306.3" r="2.95" fill="url(#cg)" stroke="#505050" stroke-width="1.1" filter="url(#b2)"/>
<circle cx="186.0" cy="306.7" r="2.95" fill="url(#cg)" stroke="#505050" stroke-width="1.1" filter="url(#b2)"/>
<circle cx="195.0" cy="307.7" r="2.95" fill="url(#cg)" stroke="#505050" stroke-width="1.1" filter="url(#b2)"/>
<circle cx="211.6" cy="308.8" r="2.95" fill="url(#cg)" stroke="#505050" stroke-width="1.1" filter="url(#b2)"/>
<circle cx="206.6" cy="314.0" r="2.95" fill="url(#cg)" stroke="#505050" stroke-width="1.1" filter="url(#b2)"/>
<circle cx="212.4" cy="312.0" r="2.95" fill="url(#cg)" stroke="#505050" stroke-width="1.1" filter="url(#b2)"/>
<circle cx="229.0" cy="308.2" r="2.95" fill="url(#cg)" stroke="#505050" stroke-width="1.1" filter="url(#b2)"/>
<circle cx="227.5" cy="314.0" r="2.95" fill="url(#cg)" stroke="#505050" stroke-width="1.1" filter="url(#b2)"/>
<circle cx="223.5" cy="317.4" r="2.95" fill="url(#cg)" stroke="#505050" stroke-width="1.1" filter="url(#b2)"/>
<circle cx="220.5" cy="322.8" r="2.95" fill="url(#cg)" stroke="#505050" stroke-width="1.1" filter="url(#b2)"/>
</g>
<g clip-path="url(#cpC2)">
<ellipse cx="198.6" cy="326.3" rx="3.4" ry="2.4" transform="rotate(-20 198.6 326.3)" fill="url(#cg)" stroke="#505050" stroke-width="1.1" filter="url(#b2)"/>
<circle cx="204.4" cy="324.2" r="2.95" fill="url(#cg)" stroke="#505050" stroke-width="1.1" filter="url(#b2)"/>
<circle cx="179.2" cy="331.8" r="2.95" fill="url(#cg)" stroke="#505050" stroke-width="1.1" filter="url(#b2)"/>
<circle cx="187.1" cy="334.7" r="2.95" fill="url(#cg)" stroke="#505050" stroke-width="1.1" filter="url(#b2)"/>
<circle cx="185.4" cy="339.0" r="2.95" fill="url(#cg)" stroke="#505050" stroke-width="1.1" filter="url(#b2)"/>
<circle cx="233.3" cy="332.1" r="2.95" fill="url(#cg)" stroke="#505050" stroke-width="1.1" filter="url(#b2)"/>
<circle cx="243.7" cy="332.1" r="2.95" fill="url(#cg)" stroke="#505050" stroke-width="1.1" filter="url(#b2)"/>
<circle cx="241.2" cy="335.7" r="2.95" fill="url(#cg)" stroke="#505050" stroke-width="1.1" filter="url(#b2)"/>
<circle cx="224.3" cy="339.6" r="2.95" fill="url(#cg)" stroke="#505050" stroke-width="1.1" filter="url(#b2)"/>
<circle cx="240.5" cy="340.7" r="2.95" fill="url(#cg)" stroke="#505050" stroke-width="1.1" filter="url(#b2)"/>
<circle cx="210.2" cy="343.9" r="2.95" fill="url(#cg)" stroke="#505050" stroke-width="1.1" filter="url(#b2)"/>
<ellipse cx="246.3" cy="347.9" rx="3.2" ry="2.6" transform="rotate(-20 246.3 347.9)" fill="url(#cg)" stroke="#505050" stroke-width="1.1" filter="url(#b2)"/>
<circle cx="195.0" cy="349.4" r="2.95" fill="url(#cg)" stroke="#505050" stroke-width="1.1" filter="url(#b2)"/>
<circle cx="198.6" cy="350.8" r="2.95" fill="url(#cg)" stroke="#505050" stroke-width="1.1" filter="url(#b2)"/>
<circle cx="190.0" cy="354.9" r="2.95" fill="url(#cg)" stroke="#505050" stroke-width="1.1" filter="url(#b2)"/>
<circle cx="200.8" cy="356.9" r="2.95" fill="url(#cg)" stroke="#505050" stroke-width="1.1" filter="url(#b2)"/>
<circle cx="233.3" cy="356.6" r="2.95" fill="url(#cg)" stroke="#505050" stroke-width="1.1" filter="url(#b2)"/>
<circle cx="239.8" cy="355.9" r="2.95" fill="url(#cg)" stroke="#505050" stroke-width="1.1" filter="url(#b2)"/>
<circle cx="229.0" cy="361.2" r="2.95" fill="url(#cg)" stroke="#505050" stroke-width="1.1" filter="url(#b2)"/>
<circle cx="180.6" cy="360.9" r="2.95" fill="url(#cg)" stroke="#505050" stroke-width="1.1" filter="url(#b2)"/>
<circle cx="183.5" cy="371.0" r="2.95" fill="url(#cg)" stroke="#505050" stroke-width="1.1" filter="url(#b2)"/>
<circle cx="215.2" cy="370.7" r="2.95" fill="url(#cg)" stroke="#505050" stroke-width="1.1" filter="url(#b2)"/>
<circle cx="249.2" cy="368.8" r="2.95" fill="url(#cg)" stroke="#505050" stroke-width="1.1" filter="url(#b2)"/>
</g>
<g clip-path="url(#cpC3)">
<ellipse cx="185.7" cy="374.2" rx="3.6" ry="2.0" transform="rotate(0 185.7 374.2)" fill="url(#cg)" stroke="#505050" stroke-width="1.1" filter="url(#b2)"/>
<circle cx="209.5" cy="377.0" r="2.95" fill="url(#cg)" stroke="#505050" stroke-width="1.1" filter="url(#b2)"/>
<circle cx="213.1" cy="377.8" r="2.95" fill="url(#cg)" stroke="#505050" stroke-width="1.1" filter="url(#b2)"/>
<circle cx="223.9" cy="377.0" r="2.95" fill="url(#cg)" stroke="#505050" stroke-width="1.1" filter="url(#b2)"/>
<circle cx="182.8" cy="390.7" r="2.95" fill="url(#cg)" stroke="#505050" stroke-width="1.1" filter="url(#b2)"/>
<circle cx="205.9" cy="387.9" r="2.95" fill="url(#cg)" stroke="#505050" stroke-width="1.1" filter="url(#b2)"/>
<circle cx="221.0" cy="387.1" r="2.95" fill="url(#cg)" stroke="#505050" stroke-width="1.1" filter="url(#b2)"/>
<circle cx="231.1" cy="389.6" r="2.95" fill="url(#cg)" stroke="#505050" stroke-width="1.1" filter="url(#b2)"/>
<circle cx="249.2" cy="387.9" r="2.95" fill="url(#cg)" stroke="#505050" stroke-width="1.1" filter="url(#b2)"/>
<circle cx="196.9" cy="400.5" r="2.95" fill="url(#cg)" stroke="#505050" stroke-width="1.1" filter="url(#b2)"/>
<circle cx="213.1" cy="398.7" r="2.95" fill="url(#cg)" stroke="#505050" stroke-width="1.1" filter="url(#b2)"/>
<circle cx="241.9" cy="401.5" r="2.95" fill="url(#cg)" stroke="#505050" stroke-width="1.1" filter="url(#b2)"/>
<circle cx="249.2" cy="405.9" r="2.95" fill="url(#cg)" stroke="#505050" stroke-width="1.1" filter="url(#b2)"/>
<circle cx="223.9" cy="405.4" r="2.95" fill="url(#cg)" stroke="#505050" stroke-width="1.1" filter="url(#b2)"/>
<circle cx="230.4" cy="406.6" r="2.95" fill="url(#cg)" stroke="#505050" stroke-width="1.1" filter="url(#b2)"/>
<circle cx="227.5" cy="410.9" r="2.95" fill="url(#cg)" stroke="#505050" stroke-width="1.1" filter="url(#b2)"/>
<circle cx="211.6" cy="409.8" r="2.95" fill="url(#cg)" stroke="#505050" stroke-width="1.1" filter="url(#b2)"/>
<circle cx="190.3" cy="410.6" r="2.95" fill="url(#cg)" stroke="#505050" stroke-width="1.1" filter="url(#b2)"/>
<circle cx="187.1" cy="416.7" r="2.95" fill="url(#cg)" stroke="#505050" stroke-width="1.1" filter="url(#b2)"/>
<circle cx="198.6" cy="419.3" r="2.95" fill="url(#cg)" stroke="#505050" stroke-width="1.1" filter="url(#b2)"/>
<circle cx="219.1" cy="416.0" r="2.95" fill="url(#cg)" stroke="#505050" stroke-width="1.1" filter="url(#b2)"/>
<circle cx="234.7" cy="414.5" r="2.95" fill="url(#cg)" stroke="#505050" stroke-width="1.1" filter="url(#b2)"/>
<circle cx="228.2" cy="419.6" r="2.95" fill="url(#cg)" stroke="#505050" stroke-width="1.1" filter="url(#b2)"/>
</g>
<g clip-path="url(#cpD0)">
<circle cx="474.4" cy="228.1" r="2.95" fill="url(#cg2)" stroke="#8a8a8a" stroke-width="1.1" filter="url(#b2)"/>
<ellipse cx="478.0" cy="240.2" rx="2.8" ry="3.2" transform="rotate(-20 478.0 240.2)" fill="url(#cg2)" stroke="#2a2a2a" stroke-width="1.1" filter="url(#b2)"/>
<circle cx="499.8" cy="236.6" r="2.95" fill="url(#cg2)" stroke="#2a2a2a" stroke-width="1.1" filter="url(#b2)"/>
<ellipse cx="495.1" cy="244.9" rx="3.2" ry="3.0" transform="rotate(0 495.1 244.9)" fill="url(#cg2)" stroke="#2a2a2a" stroke-width="1.1" filter="url(#b2)"/>
<circle cx="508.6" cy="226.4" r="2.95" fill="url(#cg2)" stroke="#2a2a2a" stroke-width="1.1" filter="url(#b2)"/>
<circle cx="514.0" cy="231.7" r="2.95" fill="url(#cg2)" stroke="#2a2a2a" stroke-width="1.1" filter="url(#b2)"/>
<circle cx="510.0" cy="249.4" r="2.95" fill="url(#cg2)" stroke="#2a2a2a" stroke-width="1.1" filter="url(#b2)"/>
<circle cx="501.5" cy="260.5" r="2.95" fill="url(#cg2)" stroke="#2a2a2a" stroke-width="1.1" filter="url(#b2)"/>
<circle cx="466.6" cy="266.5" r="2.95" fill="url(#cg2)" stroke="#2a2a2a" stroke-width="1.1" filter="url(#b2)"/>
<ellipse cx="451.9" cy="242.5" rx="3.2" ry="2.7" transform="rotate(0 451.9 242.5)" fill="#eccaca" stroke="#c04848" stroke-width="1.1" filter="url(#b2)"/>
</g>
<g clip-path="url(#cpD1)">
<circle cx="479.4" cy="275.0" r="2.95" fill="url(#cg2)" stroke="#2a2a2a" stroke-width="1.1" filter="url(#b2)"/>
<circle cx="511.7" cy="281.7" r="2.95" fill="url(#cg2)" stroke="#2a2a2a" stroke-width="1.1" filter="url(#b2)"/>
<ellipse cx="451.0" cy="289.8" rx="3.4" ry="2.7" transform="rotate(0 451.0 289.8)" fill="url(#cg2)" stroke="#2a2a2a" stroke-width="1.1" filter="url(#b2)"/>
<ellipse cx="490.1" cy="291.7" rx="3.2" ry="2.8" transform="rotate(-15 490.1 291.7)" fill="url(#cg2)" stroke="#2a2a2a" stroke-width="1.1" filter="url(#b2)"/>
<circle cx="458.5" cy="303.8" r="2.95" fill="url(#cg2)" stroke="#2a2a2a" stroke-width="1.1" filter="url(#b2)"/>
<ellipse cx="464.5" cy="305.2" rx="2.9" ry="2.4" transform="rotate(0 464.5 305.2)" fill="url(#cg2)" stroke="#2a2a2a" stroke-width="1.1" filter="url(#b2)"/>
<circle cx="472.3" cy="309.2" r="2.95" fill="url(#cg2)" stroke="#2a2a2a" stroke-width="1.1" filter="url(#b2)"/>
<circle cx="482.7" cy="309.2" r="2.95" fill="url(#cg2)" stroke="#2a2a2a" stroke-width="1.1" filter="url(#b2)"/>
<circle cx="457.4" cy="311.2" r="2.95" fill="url(#cg2)" stroke="#2a2a2a" stroke-width="1.1" filter="url(#b2)"/>
<circle cx="477.6" cy="318.0" r="2.95" fill="url(#cg2)" stroke="#2a2a2a" stroke-width="1.1" filter="url(#b2)"/>
<circle cx="508.6" cy="315.2" r="2.95" fill="url(#cg2)" stroke="#2a2a2a" stroke-width="1.1" filter="url(#b2)"/>
<ellipse cx="510.7" cy="295.9" rx="3.0" ry="3.4" transform="rotate(0 510.7 295.9)" fill="#f2c0c0" stroke="#d85050" stroke-width="1.1" filter="url(#b2)"/>
</g>
<g clip-path="url(#cpD2)">
<circle cx="480.1" cy="325.6" r="2.95" fill="url(#cg2)" stroke="#2a2a2a" stroke-width="1.1" filter="url(#b2)"/>
<circle cx="492.9" cy="324.1" r="2.95" fill="url(#cg2)" stroke="#2a2a2a" stroke-width="1.1" filter="url(#b2)"/>
<circle cx="488.0" cy="328.4" r="2.95" fill="url(#cg2)" stroke="#2a2a2a" stroke-width="1.1" filter="url(#b2)"/>
<circle cx="484.1" cy="333.4" r="2.95" fill="url(#cg2)" stroke="#2a2a2a" stroke-width="1.1" filter="url(#b2)"/>
<circle cx="497.5" cy="331.3" r="2.95" fill="url(#cg2)" stroke="#2a2a2a" stroke-width="1.1" filter="url(#b2)"/>
<circle cx="498.9" cy="337.0" r="2.95" fill="url(#cg2)" stroke="#2a2a2a" stroke-width="1.1" filter="url(#b2)"/>
<circle cx="508.6" cy="339.1" r="2.95" fill="url(#cg2)" stroke="#2a2a2a" stroke-width="1.1" filter="url(#b2)"/>
<circle cx="515.4" cy="346.2" r="2.95" fill="url(#cg2)" stroke="#2a2a2a" stroke-width="1.1" filter="url(#b2)"/>
<ellipse cx="464.5" cy="342.0" rx="2.8" ry="3.4" transform="rotate(-30 464.5 342.0)" fill="url(#cg2)" stroke="#5a5a30" stroke-width="1.1" filter="url(#b2)"/>
<circle cx="469.5" cy="347.9" r="2.95" fill="url(#cg2)" stroke="#2a2a2a" stroke-width="1.1" filter="url(#b2)"/>
<circle cx="479.0" cy="355.0" r="2.95" fill="url(#cg2)" stroke="#2a2a2a" stroke-width="1.1" filter="url(#b2)"/>
<ellipse cx="463.8" cy="362.6" rx="3.0" ry="2.5" transform="rotate(0 463.8 362.6)" fill="url(#cg2)" stroke="#2a2a2a" stroke-width="1.1" filter="url(#b2)"/>
<circle cx="485.5" cy="361.2" r="2.95" fill="url(#cg2)" stroke="#2a2a2a" stroke-width="1.1" filter="url(#b2)"/>
<circle cx="492.9" cy="360.7" r="2.95" fill="url(#cg2)" stroke="#2a2a2a" stroke-width="1.1" filter="url(#b2)"/>
<circle cx="497.5" cy="359.7" r="2.95" fill="url(#cg2)" stroke="#2a2a2a" stroke-width="1.1" filter="url(#b2)"/>
<circle cx="476.6" cy="366.9" r="2.95" fill="url(#cg2)" stroke="#2a2a2a" stroke-width="1.1" filter="url(#b2)"/>
<circle cx="480.1" cy="368.3" r="2.95" fill="url(#cg2)" stroke="#2a2a2a" stroke-width="1.1" filter="url(#b2)"/>
<circle cx="485.1" cy="366.9" r="2.95" fill="url(#cg2)" stroke="#2a2a2a" stroke-width="1.1" filter="url(#b2)"/>
<circle cx="450.3" cy="370.4" r="2.95" fill="url(#cg2)" stroke="#2a2a2a" stroke-width="1.1" filter="url(#b2)"/>
<circle cx="485.1" cy="346.5" r="2.8" fill="#f0c4c4" stroke="#d85050" stroke-width="1.1" filter="url(#b2)"/>
</g>
<g clip-path="url(#cpD3)">
<circle cx="453.1" cy="375.6" r="2.95" fill="url(#cg)" stroke="#585858" stroke-width="1.1" filter="url(#b2)"/>
<circle cx="510.3" cy="380.3" r="2.95" fill="url(#cg)" stroke="#7a4a3a" stroke-width="1.1" filter="url(#b2)"/>
<circle cx="460.9" cy="388.0" r="2.95" fill="url(#cg)" stroke="#585858" stroke-width="1.1" filter="url(#b2)"/>
<circle cx="465.6" cy="399.8" r="2.95" fill="url(#cg)" stroke="#585858" stroke-width="1.1" filter="url(#b2)"/>
<circle cx="492.2" cy="397.4" r="2.95" fill="url(#cg)" stroke="#585858" stroke-width="1.1" filter="url(#b2)"/>
<circle cx="496.5" cy="402.2" r="2.95" fill="#e8d0c8" stroke="#9a6050" stroke-width="1.1" filter="url(#b2)"/>
<circle cx="511.7" cy="397.9" r="2.95" fill="url(#cg)" stroke="#a0a0a0" stroke-width="1.1" filter="url(#b2)"/>
<circle cx="513.6" cy="403.3" r="2.95" fill="url(#cg)" stroke="#585858" stroke-width="1.1" filter="url(#b2)"/>
<circle cx="478.0" cy="419.0" r="2.95" fill="url(#cg)" stroke="#7a4a3a" stroke-width="1.1" filter="url(#b2)"/>
<circle cx="490.4" cy="417.3" r="2.95" fill="url(#cg)" stroke="#6a5048" stroke-width="1.1" filter="url(#b2)"/>
<ellipse cx="502.9" cy="419.7" rx="3.0" ry="2.5" transform="rotate(0 502.9 419.7)" fill="url(#cg)" stroke="#585858" stroke-width="1.1" filter="url(#b2)"/>
<circle cx="454.8" cy="411.2" r="3.2" fill="#f4d4d4" stroke="#d88080" stroke-width="1.1" filter="url(#b2)"/>
</g>
<path d="M456.8 242.6L459.8 240.4L459.8 241.6L463.1 241.6L463.1 243.6L459.8 243.6L459.8 244.8Z" fill="#111" filter="url(#b2)"/>
<path d="M515.1 295.2L518.1 293.0L518.1 294.2L521.4 294.2L521.4 296.2L518.1 296.2L518.1 297.4Z" fill="#111" filter="url(#b2)"/>
<path d="M489.5 346.9L492.5 344.7L492.5 345.9L495.8 345.9L495.8 347.9L492.5 347.9L492.5 349.1Z" fill="#111" filter="url(#b2)"/>
<path d="M460.7 411.6L463.7 409.4L463.7 410.6L467.0 410.6L467.0 412.6L463.7 412.6L463.7 413.8Z" fill="#111" filter="url(#b2)"/>
<text x="17.1" y="246.2" font-size="8" text-anchor="middle" font-weight="normal" fill="#333" >iAA</text>
<line x1="10.88" y1="247.20" x2="23.33" y2="247.20" stroke="#555" stroke-width="0.7"/>
<text x="5.38" y="256.3" font-size="8" text-anchor="start" fill="#333">1% O<tspan font-size="5.8" dy="2.5">2</tspan></text>
<line x1="5.38" y1="257.30" x2="25.39" y2="257.30" stroke="#555" stroke-width="0.7"/>
<text x="17.0" y="289.0" font-size="8" text-anchor="middle" font-weight="normal" fill="#333" >iAA</text>
<line x1="10.78" y1="290.00" x2="23.23" y2="290.00" stroke="#555" stroke-width="0.7"/>
<text x="5.38" y="299.0" font-size="8" text-anchor="start" fill="#333">5% O<tspan font-size="5.8" dy="2.5">2</tspan></text>
<line x1="5.38" y1="300.00" x2="25.39" y2="300.00" stroke="#555" stroke-width="0.7"/>
<text x="14.45" y="343.8" font-size="8" text-anchor="middle" font-weight="normal" fill="#333" >iAA</text>
<line x1="8.22" y1="344.80" x2="20.67" y2="344.80" stroke="#555" stroke-width="0.7"/>
<text x="0.91" y="353.1" font-size="8" text-anchor="start" fill="#333">10% O<tspan font-size="5.8" dy="2.5">2</tspan></text>
<line x1="0.91" y1="354.10" x2="25.37" y2="354.10" stroke="#555" stroke-width="0.7"/>
<text x="14.45" y="391.5" font-size="8" text-anchor="middle" font-weight="normal" fill="#333" >iAA</text>
<line x1="8.22" y1="392.50" x2="20.67" y2="392.50" stroke="#555" stroke-width="0.7"/>
<text x="0.91" y="401.5" font-size="8" text-anchor="start" fill="#333">21% O<tspan font-size="5.8" dy="2.5">2</tspan></text>
<line x1="0.91" y1="402.50" x2="25.37" y2="402.50" stroke="#555" stroke-width="0.7"/>
<text x="284.45" y="246.2" font-size="8" text-anchor="middle" font-weight="normal" fill="#333" >iSS</text>
<line x1="278.22" y1="247.20" x2="290.68" y2="247.20" stroke="#555" stroke-width="0.7"/>
<text x="272.88" y="256.3" font-size="8" text-anchor="start" fill="#333">1% O<tspan font-size="5.8" dy="2.5">2</tspan></text>
<line x1="272.88" y1="257.30" x2="292.89" y2="257.30" stroke="#555" stroke-width="0.7"/>
<text x="284.0" y="289.0" font-size="8" text-anchor="middle" font-weight="normal" fill="#333" >iSS</text>
<line x1="277.77" y1="290.00" x2="290.23" y2="290.00" stroke="#555" stroke-width="0.7"/>
<text x="272.18" y="299.0" font-size="8" text-anchor="start" fill="#333">5% O<tspan font-size="5.8" dy="2.5">2</tspan></text>
<line x1="272.18" y1="300.00" x2="292.19" y2="300.00" stroke="#555" stroke-width="0.7"/>
<text x="281.7" y="343.8" font-size="8" text-anchor="middle" font-weight="normal" fill="#333" >iSS</text>
<line x1="275.47" y1="344.80" x2="287.93" y2="344.80" stroke="#555" stroke-width="0.7"/>
<text x="267.96" y="353.1" font-size="8" text-anchor="start" fill="#333">10% O<tspan font-size="5.8" dy="2.5">2</tspan></text>
<line x1="267.96" y1="354.10" x2="292.42" y2="354.10" stroke="#555" stroke-width="0.7"/>
<text x="281.85" y="391.5" font-size="8" text-anchor="middle" font-weight="normal" fill="#333" >iSS</text>
<line x1="275.62" y1="392.50" x2="288.08" y2="392.50" stroke="#555" stroke-width="0.7"/>
<text x="267.96" y="401.5" font-size="8" text-anchor="start" fill="#333">21% O<tspan font-size="5.8" dy="2.5">2</tspan></text>
<line x1="267.96" y1="402.50" x2="292.42" y2="402.50" stroke="#555" stroke-width="0.7"/>
</svg>
</body></html>
